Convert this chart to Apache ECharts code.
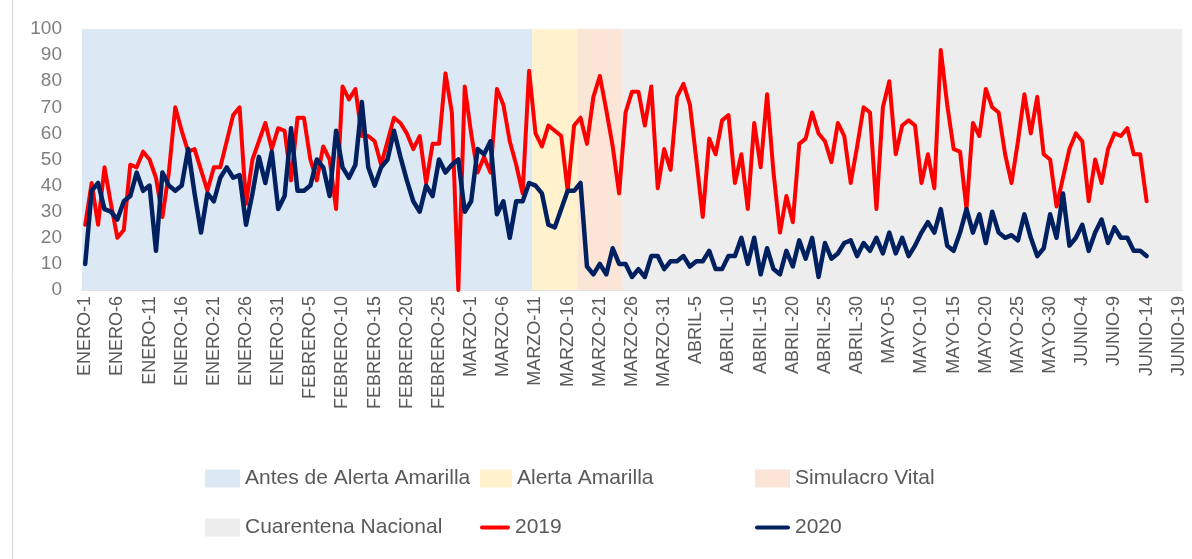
<!DOCTYPE html>
<html>
<head>
<meta charset="utf-8">
<script src="https://cdn.jsdelivr.net/npm/echarts@6/dist/echarts.min.js"></script>
<style>
html,body{margin:0;padding:0;background:#fff;}
#chart{width:1192px;height:559px;}
</style>
</head>
<body>
<div id="chart"></div>
<script>
// Tick label pieces (categories are "MES-día")
const monthNames = ['ENERO', 'FEBRERO', 'MARZO', 'ABRIL', 'MAYO', 'JUNIO'];
const monthDays = [31, 29, 31, 30, 31, 19];

// Background periods (category index ranges)
const periodNames = ['Antes de Alerta Amarilla', 'Alerta Amarilla', 'Simulacro Vital', 'Cuarentena Nacional'];
const periodStart = [0, 70, 77, 84];
const periodEnd = [69, 76, 83, 170];
const periodColors = ['#dde8f5', '#fff2cc', '#fbe5d6', '#ededed'];

// Series values
const values2019 = [25,41,25,47,33,20,23,48,47,53,50,43,28,45,70,61,53,54,46,38,47,47,57,67,70,
  33,50,57,64,54,62,61,42,66,66,50,42,55,50,31,78,73,77,59,59,57,48,57,66,64,
  60,54,59,41,56,56,83,68,0,78,60,45,51,45,77,71,57,48,37,84,60,55,63,61,59,
  38,63,66,56,74,82,69,55,37,68,76,76,63,78,39,54,46,74,79,71,50,28,58,52,65,
  67,41,52,31,64,47,75,45,22,36,26,56,58,68,60,57,49,64,59,41,55,70,68,31,70,
  80,52,63,65,63,41,52,39,92,71,54,53,31,64,59,77,70,68,52,41,57,75,60,74,52,
  50,32,43,54,60,57,34,50,41,54,60,59,62,52,52,34];
const values2020 = [10,38,41,31,30,27,34,36,45,38,40,15,45,40,38,40,54,37,22,37,34,43,47,43,44,
  25,37,51,41,53,31,36,62,38,38,40,50,47,36,61,47,43,48,72,47,40,47,50,61,51,
  42,34,30,40,36,50,45,48,50,30,34,54,52,57,29,34,20,34,34,41,40,37,25,24,31,
  38,38,41,9,6,10,6,16,10,10,5,8,5,13,13,8,11,11,13,9,11,11,15,8,8,
  13,13,20,10,20,6,16,8,6,15,9,19,12,20,5,18,12,14,18,19,13,18,15,20,14,
  22,14,20,13,17,22,26,22,31,17,15,22,31,22,29,18,30,22,20,21,19,29,20,13,16,
  29,20,37,17,20,25,15,22,27,18,24,20,20,15,15,13];

const yMin = 0, yMax = 100, yStep = 10;

const categories = [];
monthNames.forEach((m, i) => {
  for (let d = 1; d <= monthDays[i]; d++) categories.push(m + '-' + d);
});

const font = 'Liberation Sans, Arial, sans-serif';

// Background bands: one rectangle per period, spanning whole category bands
const bandSeries = periodNames.map((name, k) => ({
  name: name,
  type: 'custom',
  silent: true,
  z: 1,
  itemStyle: { color: periodColors[k] },
  encode: { x: [0, 1], y: 2 },
  data: [[periodStart[k], periodEnd[k], yMax]],
  renderItem: function (params, api) {
    const p0 = api.coord([api.value(0), api.value(2)]);
    const p1 = api.coord([api.value(1), yMin]);
    const bw = api.size([1, 0])[0];
    return {
      type: 'rect',
      shape: { x: p0[0] - bw / 2, y: p0[1], width: p1[0] - p0[0] + bw, height: p1[1] - p0[1] },
      style: { fill: periodColors[k] }
    };
  }
}));

const legendText = { fontFamily: font, fontSize: 21, color: '#595959' };
function legendItem(name, left, top, w, h, icon) {
  return {
    data: [name], left: left, top: top, itemWidth: w, itemHeight: h,
    icon: icon, selectedMode: false, padding: 0, textStyle: legendText
  };
}

const chart = echarts.init(document.getElementById('chart'), null, { renderer: 'canvas' });
chart.setOption({
  animation: false,
  backgroundColor: '#ffffff',
  grid: { left: 82, right: 10, top: 29, bottom: 269, containLabel: false },
  legend: [
    legendItem(periodNames[0], 205, 468, 35, 18, 'rect'),
    legendItem(periodNames[1], 480, 468, 32, 18, 'rect'),
    legendItem(periodNames[2], 755, 468, 35, 18, 'rect'),
    legendItem(periodNames[3], 205, 517, 35, 18, 'rect'),
    legendItem('2019', 480, 517, 30, 18, 'path://M2,7 L28,7 A2,2 0 0 1 28,11 L2,11 A2,2 0 0 1 2,7 Z'),
    legendItem('2020', 755, 517, 35, 18, 'path://M2,7 L33,7 A2,2 0 0 1 33,11 L2,11 A2,2 0 0 1 2,7 Z')
  ],
  xAxis: {
    type: 'category',
    data: categories,
    boundaryGap: true,
    axisLine: { show: true, lineStyle: { color: '#d9d9d9', width: 1.5 } },
    axisTick: { show: false },
    splitLine: { show: false },
    axisLabel: {
      interval: 4, rotate: 90, margin: 6,
      fontFamily: font, fontSize: 18, color: '#595959'
    }
  },
  yAxis: {
    type: 'value',
    min: yMin, max: yMax, interval: yStep,
    axisLine: { show: false },
    axisTick: { show: false },
    splitLine: { show: false },
    axisLabel: { margin: 20, fontFamily: font, fontSize: 19, color: '#7f7f7f' }
  },
  series: bandSeries.concat([
    {
      name: '2019', type: 'line', data: values2019, symbol: 'none',
      lineStyle: { color: '#ff0000', width: 4, join: 'round', cap: 'round' },
      itemStyle: { color: '#ff0000' },
      emphasis: { disabled: true }, z: 3
    },
    {
      name: '2020', type: 'line', data: values2020, symbol: 'none',
      lineStyle: { color: '#002060', width: 4.5, join: 'round', cap: 'round' },
      itemStyle: { color: '#002060' },
      emphasis: { disabled: true }, z: 4
    }
  ]),
  graphic: [
    { type: 'line', shape: { x1: 12.5, y1: 0, x2: 12.5, y2: 559 }, style: { stroke: '#d9d9d9', lineWidth: 1 }, silent: true }
  ]
});
</script>
</body>
</html>
